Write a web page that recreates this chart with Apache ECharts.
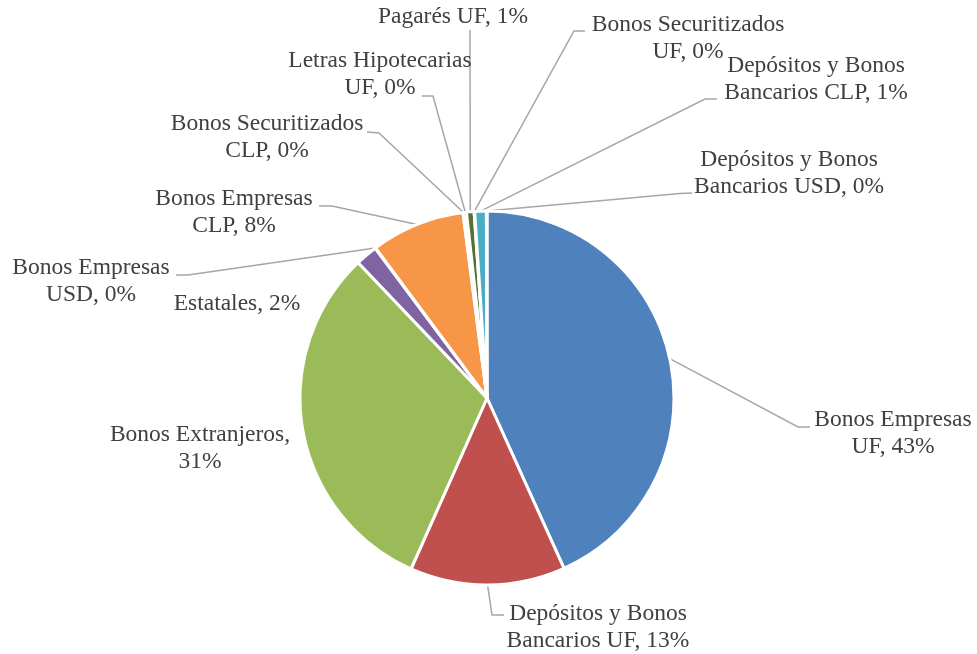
<!DOCTYPE html>
<html>
<head>
<meta charset="utf-8">
<script src="https://cdn.jsdelivr.net/npm/echarts@6/dist/echarts.min.js"></script>
<style>
  html, body { margin: 0; background: #fff; }
  #chart { width: 977px; height: 654px; }
</style>
</head>
<body>
<div id="chart"></div>
<script>
const categories = [
  'Bonos Empresas UF',
  'Depósitos y Bonos Bancarios UF',
  'Bonos Extranjeros',
  'Estatales',
  'Bonos Empresas USD',
  'Bonos Empresas CLP',
  'Bonos Securitizados CLP',
  'Letras Hipotecarias UF',
  'Pagarés UF',
  'Bonos Securitizados UF',
  'Depósitos y Bonos Bancarios CLP',
  'Depósitos y Bonos Bancarios USD'
];
const values = [43.2, 13.4, 31.2, 1.9, 0.05, 8.1, 0.1, 0.2, 0.65, 0.05, 1.0, 0.05];
const colors = ['#4F81BD', '#C0504D', '#9BBB59', '#8064A2', '#4BACC6', '#F79646',
                '#2C4D75', '#772C2A', '#56722F', '#4D3B62', '#4BACC6', '#B65708'];

// words on the first label line (0 = single line)
const firstLineWords = [2, 3, 2, 0, 2, 2, 2, 2, 0, 2, 3, 3];

// label placement only (centre of each text block), plus leader elbow / end
const labelCenter = [
  [893, 433], [598, 627], [200, 448], [237, 304], [91, 281], [234, 212],
  [267, 137], [380, 74], [453, 17], [688, 38], [816, 79], [789, 173]
];
const leaderBend = [
  [[798, 427], [810, 427]],
  [[492, 615], [504, 615]],
  null,
  null,
  [[188, 275], [176, 275]],
  [[332, 206], [319, 206]],
  [[379, 133], [367, 132]],
  [[433, 96], [422, 96]],
  [[470, 33], [470, 30]],
  [[574, 31], [585, 31]],
  [[705, 99], [717, 99]],
  [[680, 193.5], [692, 193]]
];

const total = values.reduce((a, b) => a + b, 0);

const chart = echarts.init(document.getElementById('chart'));
chart.setOption({
  animation: false,
  backgroundColor: '#fff',
  series: [{
    type: 'pie',
    center: [487, 398],
    radius: 187,
    startAngle: 90,
    clockwise: true,
    avoidLabelOverlap: false,
    silent: true,
    itemStyle: { borderColor: '#fff', borderWidth: 3 },
    label: {
      show: true,
      position: 'outside',
      color: '#404040',
      fontFamily: 'Liberation Serif',
      fontSize: 23.5,
      lineHeight: 27,
      align: 'center',
      formatter: function (p) {
        const text = p.name + ', ' + Math.round(p.value / total * 100) + '%';
        const n = firstLineWords[p.dataIndex];
        if (!n) return text;
        const words = text.split(' ');
        return words.slice(0, n).join(' ') + '\n' + words.slice(n).join(' ');
      }
    },
    labelLine: {
      show: true,
      lineStyle: { color: '#A6A6A6', width: 1.5 }
    },
    labelLayout: function (p) {
      const i = p.dataIndex;
      const c = labelCenter[i];
      const out = { x: c[0], y: c[1], align: 'center', verticalAlign: 'middle' };
      const b = leaderBend[i];
      if (b && p.labelLinePoints) {
        out.labelLinePoints = [p.labelLinePoints[0], b[0], b[1]];
      }
      return out;
    },
    data: categories.map(function (name, i) {
      const item = { name: name, value: values[i], itemStyle: { color: colors[i] } };
      if (!leaderBend[i]) item.labelLine = { show: false };
      return item;
    })
  }]
});
</script>
</body>
</html>
